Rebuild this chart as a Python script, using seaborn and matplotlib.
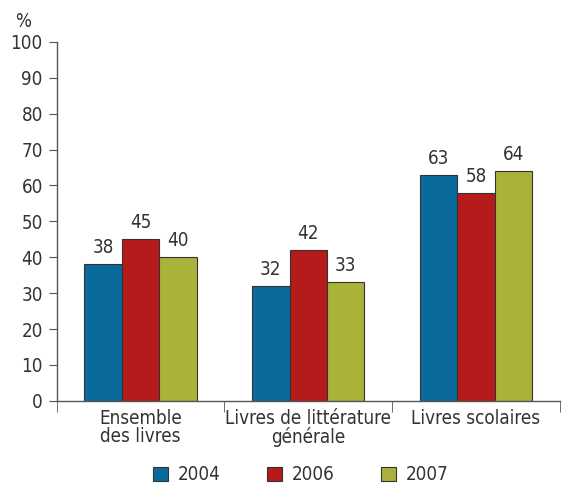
import pandas as pd
import matplotlib.pyplot as plt
import seaborn as sns

categories = ["Ensemble\ndes livres", "Livres de littérature\ngénérale", "Livres scolaires"]
years = ["2004", "2006", "2007"]
values_2004 = [38, 32, 63]
values_2006 = [45, 42, 58]
values_2007 = [40, 33, 64]
colors = ["#0B6A9C", "#B51B1A", "#AAB23A"]

df = pd.DataFrame({
    "cat": categories * 3,
    "year": [y for y in years for _ in categories],
    "val": values_2004 + values_2006 + values_2007,
})

sns.set_style("white")
plt.rcParams["font.family"] = ["DejaVu Sans"]
plt.rcParams["font.stretch"] = "condensed"

fig = plt.figure(figsize=(5.62, 4.87), dpi=100)
ax = fig.add_axes([0.101, 0.177, 0.895, 0.737])
sns.barplot(data=df, x="cat", y="val", hue="year", palette=colors, width=0.67,
            edgecolor="#333333", linewidth=0.8, saturation=1, ax=ax)

for cont in ax.containers:
    ax.bar_label(cont, padding=5, fontsize=13.5, color="#333333")

ax.set_xlim(-0.5, 2.5)
ax.set_ylim(0, 100)
ax.set_yticks(range(0, 101, 10))
ax.set_xlabel("")
ax.set_ylabel("")
ax.set_xticks([0, 1, 2])
ax.set_xticklabels(categories, fontsize=13.5, color="#333333", linespacing=0.95)
ax.tick_params(axis="x", length=0, pad=6)
ax.set_xticks([-0.5, 0.5, 1.5, 2.5], minor=True)
ax.tick_params(axis="x", which="minor", bottom=True, length=8, direction="out",
               color="#555555")
ax.tick_params(axis="y", left=True, length=6, direction="out", color="#555555",
               labelsize=13.5, labelcolor="#333333", pad=4)
for s in ["top", "right"]:
    ax.spines[s].set_visible(False)
for s in ["left", "bottom"]:
    ax.spines[s].set_color("#555555")
    ax.spines[s].set_linewidth(1)
fig.text(0.027, 0.945, "%", fontsize=13.5, color="#333333")

ax.legend(loc="center", bbox_to_anchor=(0.485, -0.206), ncol=3, frameon=False,
          fontsize=13.5, handlelength=0.8, handleheight=0.8, columnspacing=2.5,
          handletextpad=0.5, labelcolor="#333333")

fig.savefig("out.png", dpi=100)
